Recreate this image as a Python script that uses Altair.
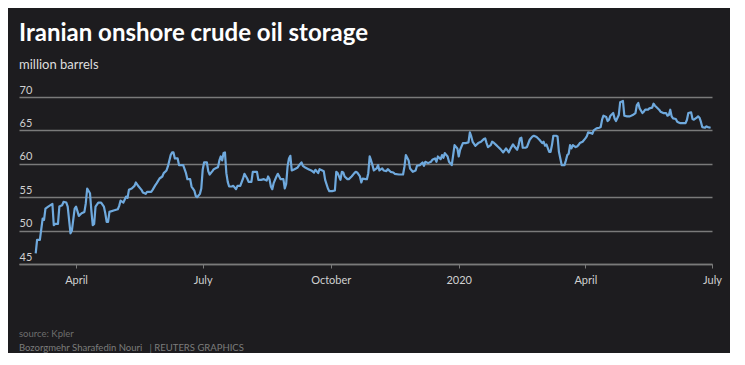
import altair as alt
import pandas as pd

# days after 2019-04-01
day_offsets = [
    -29, -28, -26, -24, -23, -22, -20, -17, -16, -15,
    -13, -12, -10, -9, -7, -6, -4, -3, -1, 0,
    2, 4, 6, 7, 8, 10, 11, 12, 13, 14,
    16, 18, 20, 21, 22, 23, 24, 27, 30, 31,
    32, 34, 36, 37, 38, 40, 42, 43, 45, 47,
    48, 50, 51, 54, 55, 57, 58, 60, 62, 63,
    65, 66, 68, 69, 70, 71, 73, 74, 77, 79,
    80, 82, 83, 85, 86, 87, 89, 90, 91, 92,
    94, 95, 96, 98, 99, 101, 102, 103, 104, 105,
    106, 107, 108, 109, 110, 112, 113, 115, 116, 118,
    120, 121, 123, 124, 126, 127, 130, 131, 133, 135,
    137, 138, 139, 140, 141, 142, 144, 145, 147, 149,
    150, 151, 152, 153, 154, 155, 157, 159, 160, 162,
    163, 165, 167, 169, 171, 172, 174, 175, 177, 178,
    179, 181, 182, 184, 186, 187, 188, 190, 191, 192,
    193, 195, 196, 198, 200, 201, 202, 204, 205, 206,
    208, 209, 210, 211, 212, 213, 214, 216, 217, 218,
    220, 221, 223, 224, 226, 228, 229, 232, 235, 236,
    237, 239, 240, 242, 244, 245, 247, 249, 250, 251,
    253, 255, 256, 258, 259, 260, 262, 263, 264, 265,
    267, 268, 270, 271, 272, 274, 275, 276, 278, 280,
    282, 283, 284, 285, 287, 289, 291, 293, 294, 295,
    296, 298, 299, 300, 302, 303, 305, 307, 308, 309,
    311, 312, 314, 315, 317, 318, 319, 320, 321, 323,
    324, 326, 328, 329, 331, 333, 335, 336, 337, 338,
    340, 341, 342, 343, 345, 346, 347, 348, 349, 351,
    352, 353, 354, 355, 356, 357, 359, 360, 361, 362,
    364, 366, 367, 368, 370, 371, 372, 374, 376, 377,
    378, 379, 381, 382, 383, 384, 386, 387, 388, 390,
    391, 393, 394, 396, 398, 400, 402, 403, 404, 405,
    407, 408, 409, 411, 412, 414, 415, 416, 417, 419,
    420, 422, 424, 425, 426, 427, 428, 429, 431, 432,
    433, 434, 436, 438, 439, 440, 442, 443, 444, 446,
    447, 448, 449, 450, 452, 453, 454, 456,
]

storage_mbbl = [
    46.6, 48.6, 48.6, 51.8, 51.6, 53.3, 53.6, 54.0, 50.8, 51.0,
    51.0, 53.6, 53.8, 54.3, 54.2, 53.6, 49.6, 50.0, 53.3, 53.6,
    52.2, 52.6, 52.8, 54.1, 56.3, 55.6, 53.0, 50.8, 51.0, 53.6,
    54.2, 54.2, 53.6, 52.6, 51.3, 51.3, 52.8, 53.0, 53.2, 53.7,
    54.5, 54.2, 55.1, 54.9, 56.1, 56.3, 56.7, 57.2, 56.6, 56.1,
    55.7, 55.5, 55.8, 55.8, 56.1, 56.8, 57.1, 57.8, 58.1, 58.6,
    59.0, 59.6, 61.3, 61.7, 61.7, 60.8, 60.8, 59.8, 59.8, 58.6,
    57.7, 57.7, 56.6, 56.0, 55.2, 55.0, 55.5, 56.3, 59.1, 60.2,
    60.2, 58.9, 58.4, 58.9, 59.2, 59.4, 59.5, 60.5, 61.1, 60.5,
    61.6, 61.7, 58.6, 57.3, 56.6, 56.6, 56.7, 56.2, 56.7, 56.7,
    57.8, 58.5, 57.8, 57.3, 57.3, 58.8, 58.8, 57.6, 57.6, 57.7,
    57.5, 58.1, 57.7, 56.6, 56.2, 57.1, 58.1, 58.5, 57.7, 57.7,
    56.3, 57.0, 59.6, 60.8, 61.2, 59.0, 59.2, 59.4, 59.7, 60.2,
    59.7, 59.4, 59.2, 59.0, 58.7, 59.1, 58.6, 59.2, 59.0, 58.9,
    57.6, 56.3, 55.9, 55.9, 56.0, 58.8, 58.6, 57.6, 58.8, 58.7,
    58.1, 57.7, 57.7, 58.1, 58.6, 58.8, 58.7, 58.1, 57.2, 57.8,
    57.7, 57.7, 58.6, 61.1, 60.5, 59.8, 59.0, 59.3, 59.8, 59.0,
    59.3, 59.0, 58.9, 59.2, 58.8, 58.7, 58.5, 58.4, 58.4, 59.6,
    61.3, 60.5, 59.3, 58.8, 59.0, 59.7, 59.8, 60.2, 59.7, 60.3,
    60.1, 60.3, 60.6, 60.8, 60.3, 61.1, 60.7, 61.3, 60.9, 61.6,
    61.1, 60.3, 59.8, 61.3, 62.8, 62.3, 61.1, 62.1, 63.1, 63.1,
    63.2, 64.7, 64.1, 63.3, 62.7, 63.1, 63.3, 63.7, 63.8, 63.1,
    62.5, 62.8, 63.3, 63.2, 62.8, 62.6, 62.2, 61.7, 62.0, 62.3,
    61.7, 62.2, 62.9, 62.6, 62.1, 62.8, 63.8, 63.9, 62.4, 62.4,
    62.5, 63.6, 64.1, 64.2, 64.0, 63.6, 63.1, 63.3, 62.7, 62.9,
    61.8, 61.8, 62.8, 64.2, 64.2, 64.1, 61.8, 60.8, 59.8, 59.8,
    60.5, 61.3, 61.5, 62.8, 62.3, 62.8, 62.5, 62.6, 62.8, 63.1,
    63.3, 63.8, 64.1, 64.7, 64.6, 64.5, 65.0, 65.3, 65.4, 65.5,
    66.6, 67.2, 67.0, 66.4, 66.6, 67.2, 67.6, 66.8, 66.4, 67.3,
    69.2, 69.4, 67.2, 67.1, 67.1, 67.3, 67.6, 68.8, 69.1, 68.3,
    67.6, 67.8, 68.1, 68.1, 68.3, 68.4, 69.0, 68.7, 68.5, 68.1,
    67.8, 67.6, 67.6, 67.2, 67.3, 68.1, 67.1, 66.8, 66.7, 66.3,
    66.2, 66.1, 66.1, 66.1, 66.6, 67.6, 67.7, 66.7, 66.6, 66.9,
    67.1, 66.9, 66.3, 65.5, 65.4, 65.6, 65.5, 65.4,
]

y_ticks = [45, 50, 55, 60, 65, 70]

title_text = "Iranian onshore crude oil storage"
subtitle_text = "million barrels"
source_text = "source: Kpler"
credit_text = "Bozorgmehr Sharafedin Nouri\u00a0\u00a0\u00a0| REUTERS GRAPHICS"

assert len(day_offsets) == len(storage_mbbl)

base_date = pd.Timestamp("2019-04-01")
dates = [(base_date + pd.Timedelta(days=d)).strftime("%Y-%m-%dT00:00:00") for d in day_offsets]
df = pd.DataFrame({"date": dates, "storage": storage_mbbl})

W, H = 693, 167
BG = "#1d1c1f"
GRID = "#7a7a7a"
FONT = "Lato"

x_ticks = [
    alt.DateTime(year=2019, month=4, date=1),
    alt.DateTime(year=2019, month=7, date=1),
    alt.DateTime(year=2019, month=10, date=1),
    alt.DateTime(year=2020, month=1, date=1),
    alt.DateTime(year=2020, month=4, date=1),
    alt.DateTime(year=2020, month=7, date=1),
]

line = alt.Chart(df).mark_line(color="#6fa9dd", strokeWidth=2.2, strokeJoin="round").encode(
    x=alt.X(
        "date:T",
        scale=alt.Scale(domain=[alt.DateTime(year=2019, month=2, date=19),
                                alt.DateTime(year=2020, month=7, date=1)]),
        axis=alt.Axis(
            values=x_ticks,
            labelExpr="month(datum.value) == 0 ? timeFormat(datum.value, '%Y') : timeFormat(datum.value, '%B')",
            title=None, grid=False,
            domainColor=GRID, domainWidth=1.5,
            tickColor=GRID, tickSize=4, tickWidth=1,
            labelColor="#d0d0d0", labelFontSize=11, labelFont=FONT,
            labelPadding=6, labelFlush=False, labelOverlap=False,
        ),
    ),
    y=alt.Y(
        "storage:Q",
        scale=alt.Scale(domain=[45, 70], nice=False, zero=False),
        axis=alt.Axis(
            values=y_ticks, title=None, grid=True,
            gridColor=GRID, gridWidth=1.5,
            domain=False, ticks=False, tickSize=0,
            labelAlign="left", labelBaseline="bottom", labelPadding=0,
            labelColor="#d0d0d0", labelFontSize=11, labelFont=FONT,
            labelOffset=-2,
        ),
    ),
)

foot_df = pd.DataFrame({"src": [source_text], "credit": [credit_text]})
src = alt.Chart(foot_df).mark_text(
    align="left", baseline="middle", font=FONT, fontSize=9.5, color="#6e6e6e"
).encode(text="src:N", x=alt.value(0), y=alt.value(H + 70))
credit = alt.Chart(foot_df).mark_text(
    align="left", baseline="middle", font=FONT, fontSize=9.5, color="#7c7c7c"
).encode(text="credit:N", x=alt.value(0), y=alt.value(H + 84))

chart = alt.layer(line, src, credit).properties(
    width=W, height=H,
    background=BG,
    padding={"left": 11, "top": 14, "right": 8, "bottom": 0},
    title=alt.TitleParams(
        text=title_text, subtitle=subtitle_text,
        anchor="start", font=FONT, fontSize=24, fontWeight="bold", color="#ffffff",
        subtitleFont=FONT, subtitleFontSize=13, subtitleColor="#dedede",
        subtitlePadding=13, offset=12,
    ),
).configure_view(stroke=None)

chart.save("out.html", embed_options={"renderer": "svg", "actions": False})
